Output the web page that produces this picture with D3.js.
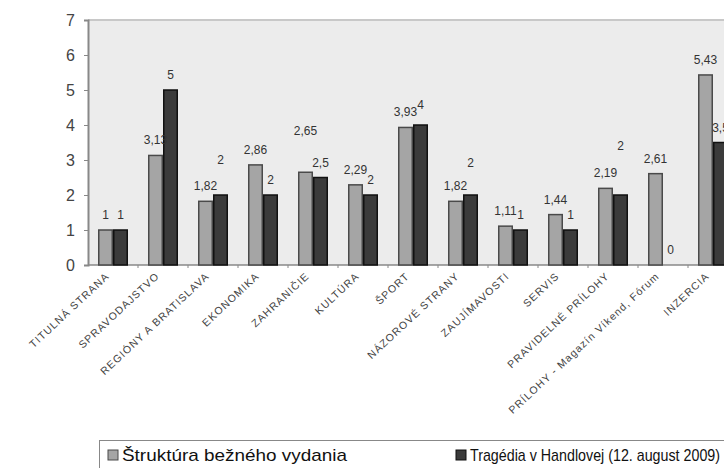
<!DOCTYPE html>
<html><head><meta charset="utf-8">
<script src="https://cdn.jsdelivr.net/npm/d3@7"></script>
<style>
html,body{margin:0;padding:0;background:#fff;}
svg{display:block;font-family:"Liberation Sans",Arial,sans-serif;}
</style></head>
<body><svg id="c" width="724" height="468"></svg>
<script>
const categories = ["TITULNÁ STRANA","SPRAVODAJSTVO","REGIÓNY A BRATISLAVA","EKONOMIKA","ZAHRANIČIE","KULTÚRA","ŠPORT","NÁZOROVÉ STRANY","ZAUJÍMAVOSTI","SERVIS","PRAVIDELNÉ PRÍLOHY","PRÍLOHY - Magazín Víkend, Fórum","INZERCIA"];
const seriesNames = ["Štruktúra bežného vydania","Tragédia v Handlovej (12. august 2009)"];
const regular = [1,3.13,1.82,2.86,2.65,2.29,3.93,1.82,1.11,1.44,2.19,2.61,5.43];
const tragedy = [1,5,2,2,2.5,2,4,2,1,1,2,0,3.5];
const yTicks = [0,1,2,3,4,5,6,7];
// extra label lift (px) for labels displaced in the original
const liftRegular = [0,0,0,0,26,0,0,0,0,0,0,0,0];
const liftTragedy = [0,0,20,0,0,0,5,17,0,0,34,0,0];

const svg = d3.select("#c");
const pL = 88, pR = 738, pT = 20, pB = 265;
const x = d3.scaleBand().domain(categories).range([pL,pR]).paddingInner(0.4).paddingOuter(0.2);
const y = d3.scaleLinear().domain([0,7]).range([pB,pT]);
const x2 = d3.scaleBand().domain([0,1]).range([0,x.bandwidth()]).padding(0);

// plot background
svg.append("rect").attr("x",pL).attr("y",pT).attr("width",pR-pL).attr("height",pB-pT).attr("fill","#ececec");
svg.append("line").attr("x1",pL).attr("x2",pR).attr("y1",pT).attr("y2",pT).attr("stroke","#c8c8c8").attr("stroke-width",2);

// y axis
const yAxis = svg.append("g").attr("transform",`translate(${pL},0)`)
  .call(d3.axisLeft(y).tickValues(yTicks).tickSize(4).tickPadding(9).tickFormat(d3.format("d")));
yAxis.select(".domain").attr("stroke","#888").attr("stroke-width",2);
yAxis.selectAll(".tick line").attr("stroke","#888");
yAxis.selectAll(".tick text").attr("font-size",16).attr("fill","#444").style("font-family","Liberation Sans, Arial, sans-serif");

// x axis line with boundary ticks
svg.append("line").attr("x1",pL).attr("x2",pR).attr("y1",pB).attr("y2",pB).attr("stroke","#888").attr("stroke-width",1.5);
const step = x.step();
svg.append("g").selectAll("line").data(categories).join("line")
  .attr("x1",(d,i)=>pL+step*(i+1)).attr("x2",(d,i)=>pL+step*(i+1))
  .attr("y1",pB).attr("y2",pB+3).attr("stroke","#888");

const rows = categories.map((c,i)=>({c,i,vals:[regular[i],tragedy[i]],lifts:[liftRegular[i],liftTragedy[i]]}));
const fills = ["#a5a5a5","#3b3b3b"], strokes = ["#4a4a4a","#111"];
const fmt = v => String(v).replace(".",",");

const g = svg.append("g").selectAll("g").data(rows).join("g").attr("transform",d=>`translate(${x(d.c)},0)`);
g.selectAll("rect").data(d=>d.vals.map((v,k)=>({v,k}))).join("rect")
  .attr("x",d=>x2(d.k)+0.75).attr("width",x2.bandwidth()-1.5)
  .attr("y",d=>y(d.v)).attr("height",d=>Math.max(0,y(0)-y(d.v)))
  .attr("fill",d=>fills[d.k]).attr("stroke",d=>strokes[d.k]).attr("stroke-width",1.5)
  .attr("display",d=>d.v>0?null:"none");
g.selectAll("text").data(d=>d.vals.map((v,k)=>({v,k,lift:d.lifts[k]}))).join("text")
  .attr("x",d=>x2(d.k)+x2.bandwidth()/2).attr("y",d=>y(d.v)-11-d.lift)
  .attr("text-anchor","middle").attr("font-size",12).attr("fill","#333")
  .text(d=>fmt(d.v));

// x labels
svg.append("g").selectAll("text").data(categories).join("text")
  .attr("transform",d=>`translate(${x(d)+x.bandwidth()/2-3},${pB+12}) rotate(-43)`)
  .attr("text-anchor","end").attr("font-size",10.5).attr("letter-spacing",1.1).attr("fill","#444").text(d=>d);

// legend
const lg = svg.append("g");
lg.append("rect").attr("x",99.5).attr("y",440.5).attr("width",640).attr("height",40).attr("fill","#fff").attr("stroke","#888");
const items = [{n:seriesNames[0],k:0,x:108,w:225},{n:seriesNames[1],k:1,x:456,w:250}];
items.forEach(it=>{
  lg.append("rect").attr("x",it.x).attr("y",450).attr("width",10).attr("height",10).attr("fill",fills[it.k]).attr("stroke",strokes[it.k]);
  lg.append("text").attr("x",it.x+14).attr("y",461).attr("font-size",17).attr("fill","#111")
    .attr("textLength",it.w).attr("lengthAdjust","spacingAndGlyphs").text(it.n);
});
</script></body></html>
